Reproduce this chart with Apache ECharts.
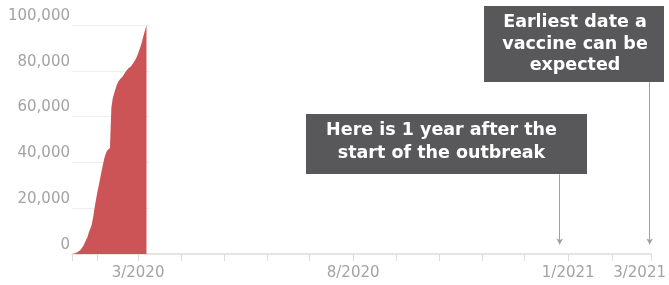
<!DOCTYPE html>
<html>
<head>
<meta charset="utf-8">
<script src="https://cdn.jsdelivr.net/npm/echarts@6/dist/echarts.min.js"></script>
<style>
  html, body { margin: 0; padding: 0; background: #fff; }
  #chart { width: 669px; height: 285px; }
</style>
</head>
<body>
<div id="chart"></div>
<script>
// daily categories, Jan 14 2020 -> Mar 1 2021
const startDate = '2020-01-14'
const endDate = '2021-03-01'
// cumulative cases, one value a day from startDate
const cases = [
  0, 100, 250, 500, 900, 1300, 1800, 2400, 3500, 4800,
  6200, 7300, 9500, 11000, 12800, 15800, 20000, 23500, 27000, 29800,
  33000, 36000, 39000, 41800, 43800, 45200, 46000, 46300, 64000, 68000,
  70200, 72200, 74000, 75300, 76200, 76800, 77500, 78500, 79500, 80300,
  81000, 81600, 82000, 82800, 83700, 84700, 86000, 87600, 89300, 91000,
  93200, 95600, 97800, 100000
]
const yTicks = [20000, 40000, 60000, 80000, 100000]
const labelDates = ['2020-03-01', '2020-08-01', '2021-01-01', '2021-03-01']
const gridEnd = '2020-03-09'
// annotation arrows: [date, from value, to value]
const arrows = [
  ['2020-12-26', 34800, 4200],
  ['2021-02-28', 75000, 4200]
]

function pad(n) { return n < 10 ? '0' + n : '' + n }
const dates = []
let d = new Date(startDate + 'T00:00:00Z')
const stop = new Date(endDate + 'T00:00:00Z')
while (d <= stop) {
  dates.push(d.getUTCFullYear() + '-' + pad(d.getUTCMonth() + 1) + '-' + pad(d.getUTCDate()))
  d = new Date(d.getTime() + 86400000)
}

const gridLines = yTicks.map(v => [
  { coord: [dates[0], v] },
  { coord: [gridEnd, v] }
])

const chart = echarts.init(document.getElementById('chart'))
const option = {
  animation: false,
  grid: { left: 72, right: 16, top: 25, bottom: 31 },
  xAxis: {
    type: 'category',
    data: dates,
    boundaryGap: false,
    axisLine: { lineStyle: { color: '#dcdcdc', width: 1.5 } },
    axisTick: {
      length: 7,
      lineStyle: { color: '#dcdcdc', width: 1 },
      interval: (i, v) => i === 0 || v.slice(8) === '01'
    },
    axisLabel: {
      interval: (i, v) => labelDates.indexOf(v) >= 0,
      margin: 12,
      color: '#a3a3a3',
      fontSize: 15,
      fontFamily: 'DejaVu Sans',
      formatter: v => {
        const s = Number(v.slice(5, 7)) + '/' + v.slice(0, 4)
        return v === endDate ? '{last|' + s + '}' : s
      },
      rich: {
        last: { color: '#a3a3a3', fontSize: 15, fontFamily: 'DejaVu Sans', padding: [0, 23, 0, 0] }
      }
    }
  },
  yAxis: {
    type: 'value',
    min: 0,
    max: 100000,
    interval: 20000,
    axisLine: { show: false },
    axisTick: { show: false },
    splitLine: { show: false },
    axisLabel: {
      margin: 2,
      color: '#a3a3a3',
      fontSize: 15,
      fontFamily: 'DejaVu Sans',
      verticalAlign: 'bottom',
      lineHeight: 16,
      padding: [0, 0, 1, 0],
      formatter: v => v.toLocaleString('en-US')
    }
  },
  series: [
    {
      type: 'line',
      data: cases,
      showSymbol: false,
      lineStyle: { width: 0 },
      itemStyle: { color: '#cc5456' },
      areaStyle: { color: '#cc5456', opacity: 1 },
      z: 3,
      markLine: {
        silent: true,
        symbol: 'none',
        label: { show: false },
        lineStyle: { color: '#eeeeee', width: 1, type: 'solid' },
        z: 1,
        data: gridLines
      }
    },
    {
      type: 'line',
      data: [],
      markLine: {
        silent: true,
        symbol: ['none', 'arrow'],
        symbolSize: [5, 6],
        label: { show: false },
        lineStyle: { color: '#a0a0a0', width: 1, type: 'solid' },
        data: arrows.map(a => [
          { coord: [a[0], a[1]] },
          { coord: [a[0], a[2]] }
        ])
      }
    }
  ],
  graphic: [
    {
      type: 'rect',
      shape: { x: 306, y: 114, width: 281, height: 60 },
      style: { fill: '#58585a' }
    },
    {
      type: 'text',
      x: 441.5,
      y: 142,
      style: {
        text: 'Here is 1 year after the\nstart of the outbreak',
        fill: '#ffffff',
        font: 'bold 17.5px "DejaVu Sans"',
        align: 'center',
        verticalAlign: 'middle',
        textAlign: 'center',
        textVerticalAlign: 'middle',
        lineHeight: 23
      }
    },
    {
      type: 'rect',
      shape: { x: 484, y: 6, width: 180, height: 76 },
      style: { fill: '#58585a' }
    },
    {
      type: 'text',
      x: 575,
      y: 44,
      style: {
        text: 'Earliest date a\nvaccine can be\nexpected',
        fill: '#ffffff',
        font: 'bold 17.5px "DejaVu Sans"',
        align: 'center',
        verticalAlign: 'middle',
        textAlign: 'center',
        textVerticalAlign: 'middle',
        lineHeight: 21.5
      }
    }
  ]
}
chart.setOption(option)
</script>
</body>
</html>
